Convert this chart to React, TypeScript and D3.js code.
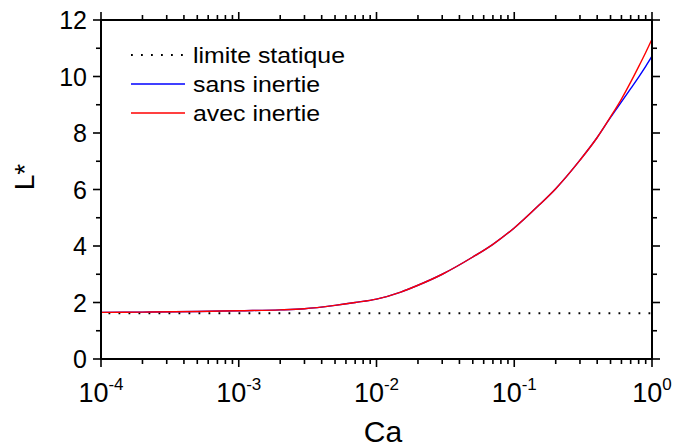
import React from "react";
import * as d3 from "d3";

const caValues = [1e-4, 2e-4, 5e-4, 1e-3, 2e-3, 3e-3, 5e-3, 7e-3, 1e-2, 1.5e-2, 2e-2, 3e-2, 5e-2, 7e-2, 0.1, 0.15, 0.2, 0.3, 0.4, 0.5, 0.6, 0.7, 0.8, 0.9, 1.0];
const sansInertie = [1.65, 1.66, 1.68, 1.71, 1.74, 1.78, 1.9, 2.0, 2.12, 2.37, 2.61, 3.0, 3.61, 4.06, 4.64, 5.43, 6.03, 7.04, 7.84, 8.55, 9.1, 9.57, 9.98, 10.36, 10.72];
const avecInertie = [1.65, 1.66, 1.68, 1.71, 1.74, 1.78, 1.9, 2.0, 2.12, 2.37, 2.61, 3.0, 3.61, 4.06, 4.64, 5.43, 6.03, 7.04, 7.84, 8.57, 9.2, 9.8, 10.35, 10.85, 11.32];
const limiteStatique = 1.62;
const yTicks = [0, 2, 4, 6, 8, 10, 12];
const xDecades = [-4, -3, -2, -1, 0];
const legendLabels = ["limite statique", "sans inertie", "avec inertie"];

const W = 673, H = 448;
const M = { left: 101, right: 652, top: 20, bottom: 359 };
const FONT = "'Liberation Sans', Arial, sans-serif";

export default function App() {
  const x = d3.scaleLog().domain([1e-4, 1]).range([M.left, M.right]);
  const y = d3.scaleLinear().domain([0, 12]).range([M.bottom, M.top]);

  const minorX: number[] = [];
  for (let e = -4; e < 0; e++) for (let k = 2; k <= 9; k++) minorX.push(k * Math.pow(10, e));
  const minorY = d3.range(1, 12, 2);

  const line = d3
    .line<[number, number]>()
    .x((d) => x(d[0]))
    .y((d) => y(d[1]))
    .curve(d3.curveMonotoneX);

  const sansPath = line(caValues.map((c, i) => [c, sansInertie[i]]) as [number, number][]) || "";
  const avecPath = line(caValues.map((c, i) => [c, avecInertie[i]]) as [number, number][]) || "";

  const maj = 8, min = 5;
  const legendColors = ["#000", "#0000ff", "#ff0000"];
  const legendY = [55, 84, 113];

  return (
    <svg width={W} height={H} style={{ position: "absolute", left: 0, top: 0, background: "#fff" }} fontFamily={FONT}>
      {/* dotted static limit */}
      <line x1={x(1e-4)} x2={x(1)} y1={y(limiteStatique)} y2={y(limiteStatique)} stroke="#000" strokeWidth={1.8} strokeDasharray="1.8 8.2" strokeDashoffset={-7.5} />
      <path d={sansPath} fill="none" stroke="#0000ff" strokeWidth={1.4} />
      <path d={avecPath} fill="none" stroke="#ff0000" strokeWidth={1.4} />

      {/* frame */}
      <rect x={M.left} y={M.top} width={M.right - M.left} height={M.bottom - M.top} fill="none" stroke="#000" strokeWidth={2} />

      {/* x ticks */}
      {xDecades.map((e) => {
        const px = x(Math.pow(10, e));
        return (
          <g key={"xm" + e}>
            <line x1={px} x2={px} y1={M.bottom} y2={M.bottom + maj} stroke="#000" strokeWidth={1.6} />
            <line x1={px} x2={px} y1={M.top} y2={M.top - maj} stroke="#000" strokeWidth={1.6} />
            <text x={px} y={402} textAnchor="middle" fontSize={27}>
              10<tspan fontSize={17} dy={-12}>{String(e)}</tspan>
            </text>
          </g>
        );
      })}
      {minorX.map((v, i) => {
        const px = x(v);
        return (
          <g key={"xn" + i}>
            <line x1={px} x2={px} y1={M.bottom} y2={M.bottom + min} stroke="#000" strokeWidth={1.6} />
            <line x1={px} x2={px} y1={M.top} y2={M.top - min} stroke="#000" strokeWidth={1.6} />
          </g>
        );
      })}

      {/* y ticks */}
      {yTicks.map((v) => {
        const py = y(v);
        return (
          <g key={"ym" + v}>
            <line x1={M.left - maj} x2={M.left} y1={py} y2={py} stroke="#000" strokeWidth={1.6} />
            <line x1={M.right} x2={M.right + maj} y1={py} y2={py} stroke="#000" strokeWidth={1.6} />
            <text x={87} y={py + 9} textAnchor="end" fontSize={25}>{v}</text>
          </g>
        );
      })}
      {minorY.map((v) => {
        const py = y(v);
        return (
          <g key={"yn" + v}>
            <line x1={M.left - min} x2={M.left} y1={py} y2={py} stroke="#000" strokeWidth={1.6} />
            <line x1={M.right} x2={M.right + min} y1={py} y2={py} stroke="#000" strokeWidth={1.6} />
          </g>
        );
      })}

      {/* axis titles */}
      <text x={383} y={442} textAnchor="middle" fontSize={30}>Ca</text>
      <text transform="translate(34,177) rotate(-90)" textAnchor="middle" fontSize={28}>L*</text>

      {/* legend */}
      {legendLabels.map((lab, i) => (
        <g key={lab}>
          {i === 0 ? (
            <line x1={131} x2={186} y1={legendY[i]} y2={legendY[i]} stroke="#000" strokeWidth={1.8} strokeDasharray="1.8 8.2" />
          ) : (
            <line x1={131} x2={185} y1={legendY[i]} y2={legendY[i]} stroke={legendColors[i]} strokeWidth={1.3} />
          )}
          <text transform={`translate(193,${legendY[i] + 8}) scale(1.13,1)`} fontSize={22}>{lab}</text>
        </g>
      ))}
    </svg>
  );
}
